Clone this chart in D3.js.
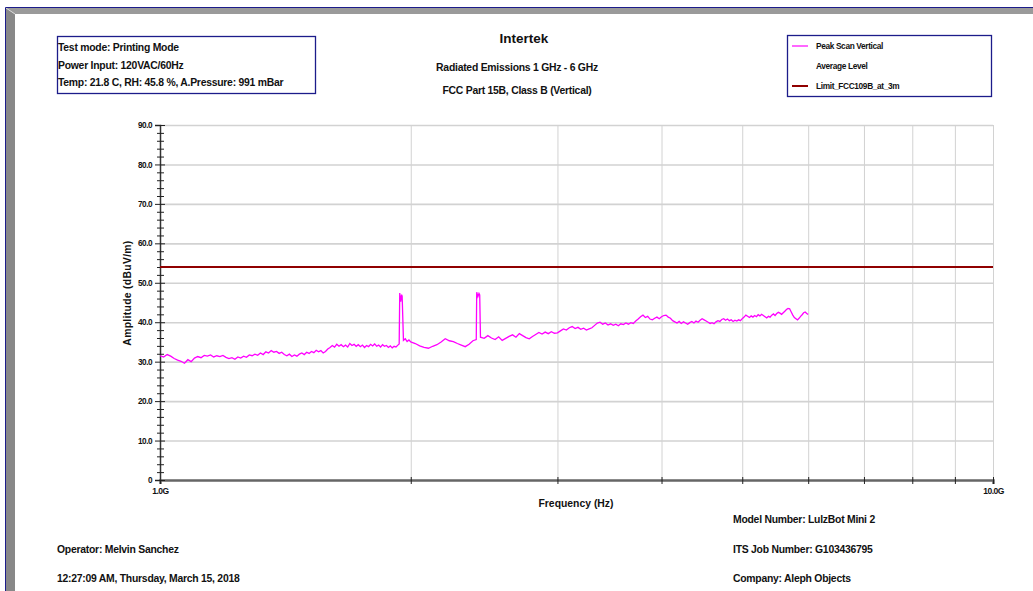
<!DOCTYPE html>
<html>
<head>
<meta charset="utf-8">
<script src="https://cdn.jsdelivr.net/npm/d3@7/dist/d3.min.js"></script>
<style>
  body { margin: 0; background: #fff; }
  svg { display: block; font-family: "Liberation Sans", Arial, sans-serif; font-weight: bold; }
  .grid line { stroke: #d2d2d2; }
  .grid path { display: none; }
  .info { font-size: 10.4px; letter-spacing: -0.25px; fill: #111; }
</style>
</head>
<body>
<svg id="chart" width="1033" height="591"></svg>
<script>
// sweep frequencies (MHz)
const freqMHz = [
  1000,1010,1020,1030,1040,1050,1060,1070,1080,1090,1100,1110,1120,1130,1140,1150,1160,1170,1180,1190,
  1200,1210,1220,1230,1240,1250,1260,1270,1280,1290,1300,1310,1320,1330,1340,1350,1360,1370,1380,1390,
  1400,1410,1420,1430,1440,1450,1460,1470,1480,1490,1500,1510,1520,1530,1540,1550,1560,1570,1580,1590,
  1600,1610,1620,1630,1640,1650,1660,1670,1680,1690,1700,1710,1720,1730,1740,1750,1760,1770,1780,1790,
  1800,1810,1820,1830,1840,1850,1860,1870,1880,1890,1900,1910,1920,1930,1937,1940,1945,1950,1953,1960,
  1970,1980,1990,2000,2025,2050,2075,2100,2125,2150,2175,2200,2225,2250,2275,2300,2325,2350,2375,2397,
  2400,2408,2415,2420,2425,2450,2475,2500,2525,2550,2575,2600,2625,2650,2675,2700,2725,2750,2775,2800,
  2825,2850,2875,2900,2925,2950,2975,3000,3025,3050,3075,3100,3125,3150,3175,3200,3225,3250,3275,3300,
  3325,3350,3375,3400,3425,3450,3475,3500,3525,3550,3575,3600,3625,3650,3675,3700,3725,3750,3775,3800,
  3825,3850,3875,3900,3925,3950,3975,4000,4025,4050,4075,4100,4125,4150,4175,4200,4225,4250,4275,4300,
  4325,4350,4375,4400,4425,4450,4475,4500,4525,4550,4575,4600,4625,4650,4675,4700,4725,4750,4775,4800,
  4825,4850,4875,4900,4925,4950,4975,5000,5025,5050,5075,5100,5125,5150,5175,5200,5225,5250,5275,5300,
  5325,5350,5375,5400,5425,5450,5475,5500,5525,5550,5575,5600,5625,5650,5675,5700,5725,5750,5775,5800,
  5825,5850,5875,5900,5925,5950,5975,6000
];

// Peak Scan Vertical (dBuV/m)
const peakScan = [
  31.5,31.2,31.8,31.4,30.8,30.4,30.1,29.6,30.5,30.0,30.9,31.3,31.0,31.6,31.4,31.7,31.2,31.5,31.3,31.6,
  31.1,30.8,31.0,30.6,31.2,30.9,31.4,31.1,31.7,31.5,31.9,31.6,32.2,31.8,32.5,32.2,32.8,32.4,32.6,32.1,
  32.4,31.8,31.5,31.9,31.3,31.7,31.4,31.9,32.2,31.8,32.4,32.1,32.6,32.3,32.9,32.5,32.8,32.2,32.6,33.2,
  33.6,34.1,33.7,34.4,33.9,34.3,33.8,34.2,33.7,34.6,34.1,34.4,33.9,34.3,33.8,34.2,33.6,34.1,33.8,34.4,
  34.0,34.5,33.9,34.2,33.7,34.3,33.9,34.1,33.6,34.0,33.5,33.9,33.7,34.2,34.5,47.4,45.2,47.0,46.6,35.4,
  35.8,35.1,35.5,35.0,34.6,34.0,33.6,33.4,33.9,34.3,35.0,35.8,35.3,35.1,34.6,34.2,33.8,34.4,35.3,35.6,
  47.6,46.5,47.3,46.9,36.2,35.9,36.6,36.0,35.6,36.3,35.4,35.9,36.4,36.8,36.2,37.1,36.6,36.1,35.8,36.4,
  36.9,37.4,37.0,37.5,37.1,37.6,37.2,37.3,37.8,38.3,38.0,38.6,38.9,38.4,38.7,38.2,38.5,38.0,38.3,38.6,
  39.2,39.8,40.0,39.5,39.8,39.3,39.6,39.2,39.5,39.1,39.6,39.4,39.8,39.5,39.9,39.7,40.3,40.8,41.4,41.8,
  41.2,41.5,40.8,40.6,41.0,41.3,40.9,41.4,41.7,41.8,41.3,41.0,40.4,40.1,39.8,40.2,39.7,40.1,39.8,39.5,
  39.9,40.2,39.8,40.3,40.0,40.5,40.9,40.6,40.3,40.0,39.7,39.9,39.6,40.1,40.4,40.2,40.7,40.9,40.5,40.8,
  40.4,40.6,40.2,40.5,40.3,40.6,40.4,40.9,41.3,41.8,41.5,41.2,41.6,41.3,41.7,41.4,41.9,41.6,42.0,41.7,
  41.4,41.1,41.5,41.3,41.8,42.1,41.7,42.2,42.5,42.3,42.0,42.4,42.8,43.2,43.5,43.4,42.6,41.8,41.2,40.9,
  40.6,41.0,41.5,41.9,42.4,42.6,42.2,42.0
];

const limitLevel = 54;
const yTicks = [0, 10, 20, 30, 40, 50, 60, 70, 80, 90];
const yMinorTicks = [2,4,6,8,12,14,16,18,22,24,26,28,32,34,36,38,42,44,46,48,52,54,56,58,62,64,66,68,72,74,76,78,82,84,86,88];
const xTicks = [1e9, 2e9, 3e9, 4e9, 5e9, 6e9, 7e9, 8e9, 9e9, 1e10];
const xTickLabels = { 1e9: '1.0G', 1e10: '10.0G' };

const infoLines = ['Test mode: Printing Mode', 'Power Input: 120VAC/60Hz', 'Temp: 21.8 C, RH: 45.8 %, A.Pressure: 991 mBar'];
const titleLines = ['Intertek', 'Radiated Emissions 1 GHz - 6 GHz', 'FCC Part 15B, Class B (Vertical)'];
const legendItems = [
  { name: 'Peak Scan Vertical', color: '#ff00ff' },
  { name: 'Average Level', color: null },
  { name: 'Limit_FCC109B_at_3m', color: '#900000' },
];
const footLeft = ['Operator: Melvin Sanchez', '12:27:09 AM, Thursday, March 15, 2018'];
const footRight = ['Model Number: LulzBot Mini 2', 'ITS Job Number: G103436795', 'Company: Aleph Objects'];

const svg = d3.select('#chart');
const W = 1033, H = 591;
const navy = '#1c1c8a';

// window frame
svg.append('path').attr('d', `M6,8 L${W},8 L${W},14 L15,14 Z`).attr('fill', '#9a9a9a');
svg.append('path').attr('d', `M6,8 L15,14 L15,${H} L6,${H} Z`).attr('fill', '#888');
svg.append('line').attr('x1', 6).attr('y1', 8).attr('x2', 15).attr('y2', 14).attr('stroke', '#d8d8d8').attr('stroke-width', 1);
svg.append('path').attr('d', `M5.5,${H} L5.5,7.5 L${W},7.5`).attr('fill', 'none').attr('stroke', navy).attr('stroke-width', 1);

const margin = { top: 125, right: 40, bottom: 111, left: 160 };
const width = W - margin.left - margin.right;
const height = H - margin.top - margin.bottom;

const x = d3.scaleLog().domain([1e9, 1e10]).range([0, width]);
const y = d3.scaleLinear().domain([0, 90]).range([height, 0]);

const g = svg.append('g').attr('transform', `translate(${margin.left},${margin.top})`);

// grid
g.append('g').attr('class', 'grid')
  .call(d3.axisLeft(y).tickValues(yTicks.slice(1)).tickSize(-width).tickFormat(''))
  .selectAll('line').attr('stroke-width', 1.6);
g.append('g').attr('class', 'grid')
  .call(d3.axisBottom(x).tickValues(xTicks.slice(1)).tickSize(height).tickFormat(''))
  .selectAll('line').attr('stroke', '#c8c8c8');

// x axis
const xAxis = g.append('g').attr('transform', `translate(0,${height})`)
  .call(d3.axisBottom(x).tickValues(xTicks).tickSize(4).tickPadding(4)
    .tickFormat(d => xTickLabels[d] || ''));
xAxis.select('.domain').attr('stroke', '#666').attr('stroke-width', 2.5);
xAxis.selectAll('.tick line').attr('stroke', '#222').attr('y1', -3);
xAxis.selectAll('text').attr('font-size', 8.5).attr('letter-spacing', -0.5).attr('fill', '#111').attr('font-weight', 'bold');

// y axis
const yAxis = g.append('g')
  .call(d3.axisLeft(y).tickValues(yTicks).tickSize(5).tickPadding(3)
    .tickFormat(d => d === 0 ? '0' : d.toFixed(1)));
yAxis.select('.domain').attr('stroke', '#333').attr('stroke-width', 1.5);
yAxis.selectAll('.tick line').attr('stroke', '#222').attr('x2', 5).attr('x1', -5);
yAxis.selectAll('text').attr('font-size', 8.2).attr('letter-spacing', -0.5).attr('fill', '#111').attr('font-weight', 'bold');
const yMinor = g.append('g')
  .call(d3.axisLeft(y).tickValues(yMinorTicks).tickSize(3).tickFormat(''));
yMinor.select('.domain').remove();
yMinor.selectAll('.tick line').attr('stroke', '#222').attr('x2', 4).attr('x1', -3);

// limit line
g.append('line')
  .attr('x1', 0).attr('x2', width)
  .attr('y1', y(limitLevel)).attr('y2', y(limitLevel))
  .attr('stroke', '#900000').attr('stroke-width', 2);

// peak trace
const trace = freqMHz.map((f, i) => [f * 1e6, peakScan[i]]);
g.append('path')
  .datum(trace)
  .attr('fill', 'none')
  .attr('stroke', '#ff00ff')
  .attr('stroke-width', 1.3)
  .attr('d', d3.line().x(d => x(d[0])).y(d => y(d[1])));

// axis titles
svg.append('text').attr('x', 576).attr('y', 507).attr('text-anchor', 'middle')
  .attr('font-size', 10.4).attr('fill', '#111').text('Frequency (Hz)');
svg.append('text').attr('transform', 'translate(131,293) rotate(-90)').attr('text-anchor', 'middle')
  .attr('font-size', 10.4).attr('letter-spacing', 0.3).attr('fill', '#111').text('Amplitude (dBuV/m)');

// info box
svg.append('rect').attr('x', 57.5).attr('y', 36.5).attr('width', 258).attr('height', 57)
  .attr('fill', 'none').attr('stroke', navy).attr('stroke-width', 1.3);
svg.selectAll('.infoline').data(infoLines).enter().append('text')
  .attr('class', 'info').attr('x', 58).attr('y', (d, i) => 51 + i * 17.5).text(d => d);

// titles
svg.append('text').attr('x', 524).attr('y', 43).attr('text-anchor', 'middle')
  .attr('font-size', 13.5).attr('fill', '#111').text(titleLines[0]);
svg.selectAll('.subtitle').data(titleLines.slice(1)).enter().append('text')
  .attr('class', 'info').attr('x', 517).attr('y', (d, i) => 71 + i * 22.5)
  .attr('text-anchor', 'middle').text(d => d);

// legend
svg.append('rect').attr('x', 787.5).attr('y', 35.5).attr('width', 204).attr('height', 61)
  .attr('fill', 'none').attr('stroke', navy).attr('stroke-width', 1.3);
const leg = svg.selectAll('.leg').data(legendItems).enter().append('g')
  .attr('transform', (d, i) => `translate(792,${46 + i * 20})`);
leg.filter(d => d.color).append('line').attr('x1', 0).attr('x2', 16).attr('y1', 0).attr('y2', 0)
  .attr('stroke', d => d.color).attr('stroke-width', d => d.name.startsWith('Limit') ? 2 : 1.2);
leg.append('text').attr('x', 24).attr('y', 3).attr('font-size', 8.3).attr('letter-spacing', -0.35)
  .attr('fill', '#111').text(d => d.name);

// footer
svg.selectAll('.footl').data(footLeft).enter().append('text')
  .attr('class', 'info').attr('x', 57).attr('y', (d, i) => 553 + i * 29).text(d => d);
svg.selectAll('.footr').data(footRight).enter().append('text')
  .attr('class', 'info').attr('x', 733).attr('y', (d, i) => 523 + i * 29.5).text(d => d);
</script>
</body>
</html>
